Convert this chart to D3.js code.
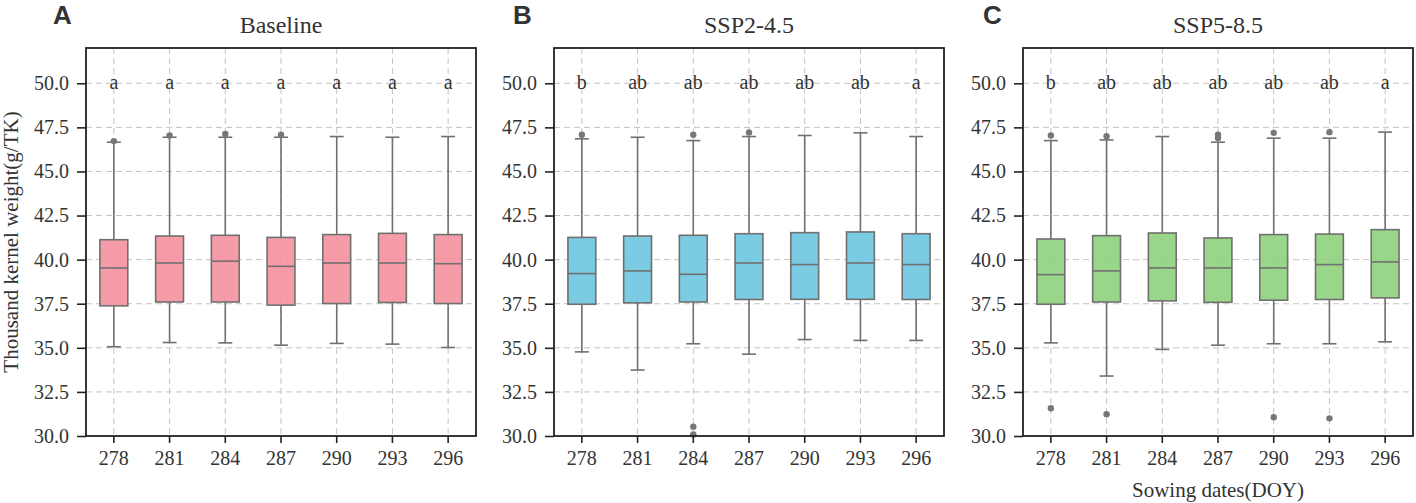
<!DOCTYPE html>
<html>
<head>
<meta charset="utf-8">
<script src="https://cdn.jsdelivr.net/npm/d3@7"></script>
<style>
  body { margin: 0; background: #fff; }
  svg { display: block; }
  text { font-family: 'Liberation Serif', 'Times New Roman', serif; fill: #333; }
</style>
</head>
<body>
<svg id="chart" width="1416" height="503"></svg>
<script>
// sowing dates (DOY) on the x axis
const sowingDates = ["278", "281", "284", "287", "290", "293", "296"];
const yTicks = [30, 32.5, 35, 37.5, 40, 42.5, 45, 47.5, 50];

const panelTitles = ["Baseline", "SSP2-4.5", "SSP5-8.5"];
const panelLetters = ["A", "B", "C"];

// box stats per date: [lower whisker, q1, median, q3, upper whisker]
const baselineStats = [
    [35.06, 37.38, 39.53, 41.13, 46.66],
    [35.30, 37.60, 39.81, 41.34, 46.94],
    [35.28, 37.60, 39.91, 41.38, 46.94],
    [35.15, 37.42, 39.62, 41.26, 46.94],
    [35.25, 37.51, 39.81, 41.42, 46.98],
    [35.21, 37.57, 39.81, 41.49, 46.94],
    [35.02, 37.51, 39.77, 41.42, 46.98]
];
const ssp245Stats = [
    [34.77, 37.47, 39.21, 41.26, 46.85],
    [33.74, 37.55, 39.36, 41.34, 46.94],
    [35.23, 37.60, 39.17, 41.38, 46.75],
    [34.64, 37.74, 39.81, 41.47, 46.98],
    [35.47, 37.75, 39.72, 41.53, 47.04],
    [35.42, 37.75, 39.81, 41.57, 47.19],
    [35.42, 37.74, 39.72, 41.47, 46.98]
];
const ssp585Stats = [
    [35.28, 37.47, 39.15, 41.17, 46.75],
    [33.40, 37.60, 39.36, 41.36, 46.79],
    [34.91, 37.66, 39.53, 41.51, 46.98],
    [35.15, 37.58, 39.53, 41.23, 46.66],
    [35.23, 37.70, 39.53, 41.42, 46.89],
    [35.23, 37.74, 39.72, 41.45, 46.89],
    [35.34, 37.83, 39.87, 41.70, 47.23]
];

// outliers per date
const baselineOutliers = [[46.72], [47.04], [47.13], [47.09], [], [], []];
const ssp245Outliers = [[47.08], [], [47.08, 30.53, 30.09], [47.21], [], [], []];
const ssp585Outliers = [[47.04, 31.57], [47.0, 31.23], [], [47.08, 46.9], [47.19, 31.06], [47.23, 31.0], []];

// significance letters
const baselineSig = ["a", "a", "a", "a", "a", "a", "a"];
const ssp245Sig = ["b", "ab", "ab", "ab", "ab", "ab", "a"];
const ssp585Sig = ["b", "ab", "ab", "ab", "ab", "ab", "a"];

const boxColors = ["#F4919F", "#6DC5E0", "#8FD27D"];

const panels = [
    {stats: baselineStats, outliers: baselineOutliers, sig: baselineSig},
    {stats: ssp245Stats, outliers: ssp245Outliers, sig: ssp245Sig},
    {stats: ssp585Stats, outliers: ssp585Outliers, sig: ssp585Sig}
];

const svg = d3.select("#chart");
const panelLeft = [86, 554, 1023];
const letterX = [53, 513, 983];
const plotW = 390, plotTop = 48, plotBottom = 436;
const lineColor = "#707070";
const serif = "'Liberation Serif', 'Times New Roman', serif";

const y = d3.scaleLinear().domain([30, 52]).range([plotBottom, plotTop]);

panels.forEach((p, pi) => {
    const x = d3.scaleBand()
        .domain(sowingDates)
        .range([panelLeft[pi], panelLeft[pi] + plotW])
        .padding(0);
    const bw = x.bandwidth() * 0.5;
    const cx = d => x(d) + x.bandwidth() / 2;

    const g = svg.append("g");

    // grid
    g.append("g").selectAll("line")
        .data(yTicks.slice(1))
        .join("line")
        .attr("x1", panelLeft[pi]).attr("x2", panelLeft[pi] + plotW)
        .attr("y1", d => y(d)).attr("y2", d => y(d))
        .attr("stroke", "#c4c4c4").attr("stroke-width", 1)
        .attr("stroke-dasharray", "6,4");
    g.append("g").selectAll("line")
        .data(sowingDates)
        .join("line")
        .attr("x1", cx).attr("x2", cx)
        .attr("y1", plotTop).attr("y2", plotBottom)
        .attr("stroke", "#c4c4c4").attr("stroke-width", 1)
        .attr("stroke-dasharray", "6,4");

    // boxes
    const box = g.append("g").selectAll("g")
        .data(sowingDates.map((d, i) => ({date: d, s: p.stats[i], out: p.outliers[i], sig: p.sig[i]})))
        .join("g");

    box.append("line")
        .attr("x1", d => cx(d.date)).attr("x2", d => cx(d.date))
        .attr("y1", d => y(d.s[0])).attr("y2", d => y(d.s[1]))
        .attr("stroke", lineColor).attr("stroke-width", 1.6);
    box.append("line")
        .attr("x1", d => cx(d.date)).attr("x2", d => cx(d.date))
        .attr("y1", d => y(d.s[3])).attr("y2", d => y(d.s[4]))
        .attr("stroke", lineColor).attr("stroke-width", 1.6);
    [0, 4].forEach(k => {
        box.append("line")
            .attr("x1", d => cx(d.date) - bw / 4).attr("x2", d => cx(d.date) + bw / 4)
            .attr("y1", d => y(d.s[k])).attr("y2", d => y(d.s[k]))
            .attr("stroke", lineColor).attr("stroke-width", 1.6);
    });
    box.append("rect")
        .attr("x", d => cx(d.date) - bw / 2)
        .attr("width", bw)
        .attr("y", d => y(d.s[3]))
        .attr("height", d => y(d.s[1]) - y(d.s[3]))
        .attr("fill", boxColors[pi]).attr("fill-opacity", 0.9)
        .attr("stroke", lineColor).attr("stroke-width", 1.6);
    box.append("line")
        .attr("x1", d => cx(d.date) - bw / 2).attr("x2", d => cx(d.date) + bw / 2)
        .attr("y1", d => y(d.s[2])).attr("y2", d => y(d.s[2]))
        .attr("stroke", lineColor).attr("stroke-width", 1.6);
    box.selectAll("circle")
        .data(d => d.out.map(v => ({date: d.date, v})))
        .join("circle")
        .attr("cx", d => cx(d.date)).attr("cy", d => y(d.v))
        .attr("r", 3.2).attr("fill", "#777");

    box.append("text")
        .attr("x", d => cx(d.date)).attr("y", y(50) + 6)
        .attr("text-anchor", "middle")
        .style("font-size", "20px")
        .text(d => d.sig);

    // axes
    g.append("g")
        .attr("transform", `translate(0,${plotBottom})`)
        .call(d3.axisBottom(x).tickSizeOuter(0).tickSize(7).tickPadding(8))
        .attr("font-family", serif).attr("font-size", 20)
        .call(a => a.select(".domain").remove())
        .call(a => a.selectAll("line").attr("stroke", "#222").attr("stroke-width", 1.6))
        .call(a => a.selectAll("text").attr("fill", "#333"));
    g.append("g")
        .attr("transform", `translate(${panelLeft[pi]},0)`)
        .call(d3.axisLeft(y).tickValues(yTicks).tickFormat(d3.format(".1f")).tickSizeOuter(0).tickSize(9).tickPadding(8))
        .attr("font-family", serif).attr("font-size", 20)
        .call(a => a.select(".domain").remove())
        .call(a => a.selectAll("line").attr("stroke", "#222").attr("stroke-width", 1.6))
        .call(a => a.selectAll("text").attr("fill", "#333"));

    // frame
    g.append("rect")
        .attr("x", panelLeft[pi]).attr("y", plotTop)
        .attr("width", plotW).attr("height", plotBottom - plotTop)
        .attr("fill", "none").attr("stroke", "#222").attr("stroke-width", 1.8);

    // title and panel letter
    svg.append("text")
        .attr("x", panelLeft[pi] + plotW / 2).attr("y", 33)
        .attr("text-anchor", "middle")
        .style("font-size", "24px")
        .text(panelTitles[pi]);
    svg.append("text")
        .attr("x", letterX[pi]).attr("y", 24)
        .style("font-family", "'Liberation Sans', Arial, sans-serif")
        .style("font-weight", "bold")
        .style("font-size", "26px")
        .attr("fill", "#000")
        .text(panelLetters[pi]);
});

svg.append("text")
    .attr("transform", `translate(18,${(plotTop + plotBottom) / 2}) rotate(-90)`)
    .attr("text-anchor", "middle")
    .style("font-size", "21px")
    .text("Thousand kernel weight(g/TK)");

svg.append("text")
    .attr("x", panelLeft[2] + plotW / 2).attr("y", 497)
    .attr("text-anchor", "middle")
    .style("font-size", "21px")
    .text("Sowing dates(DOY)");
</script>
</body>
</html>
